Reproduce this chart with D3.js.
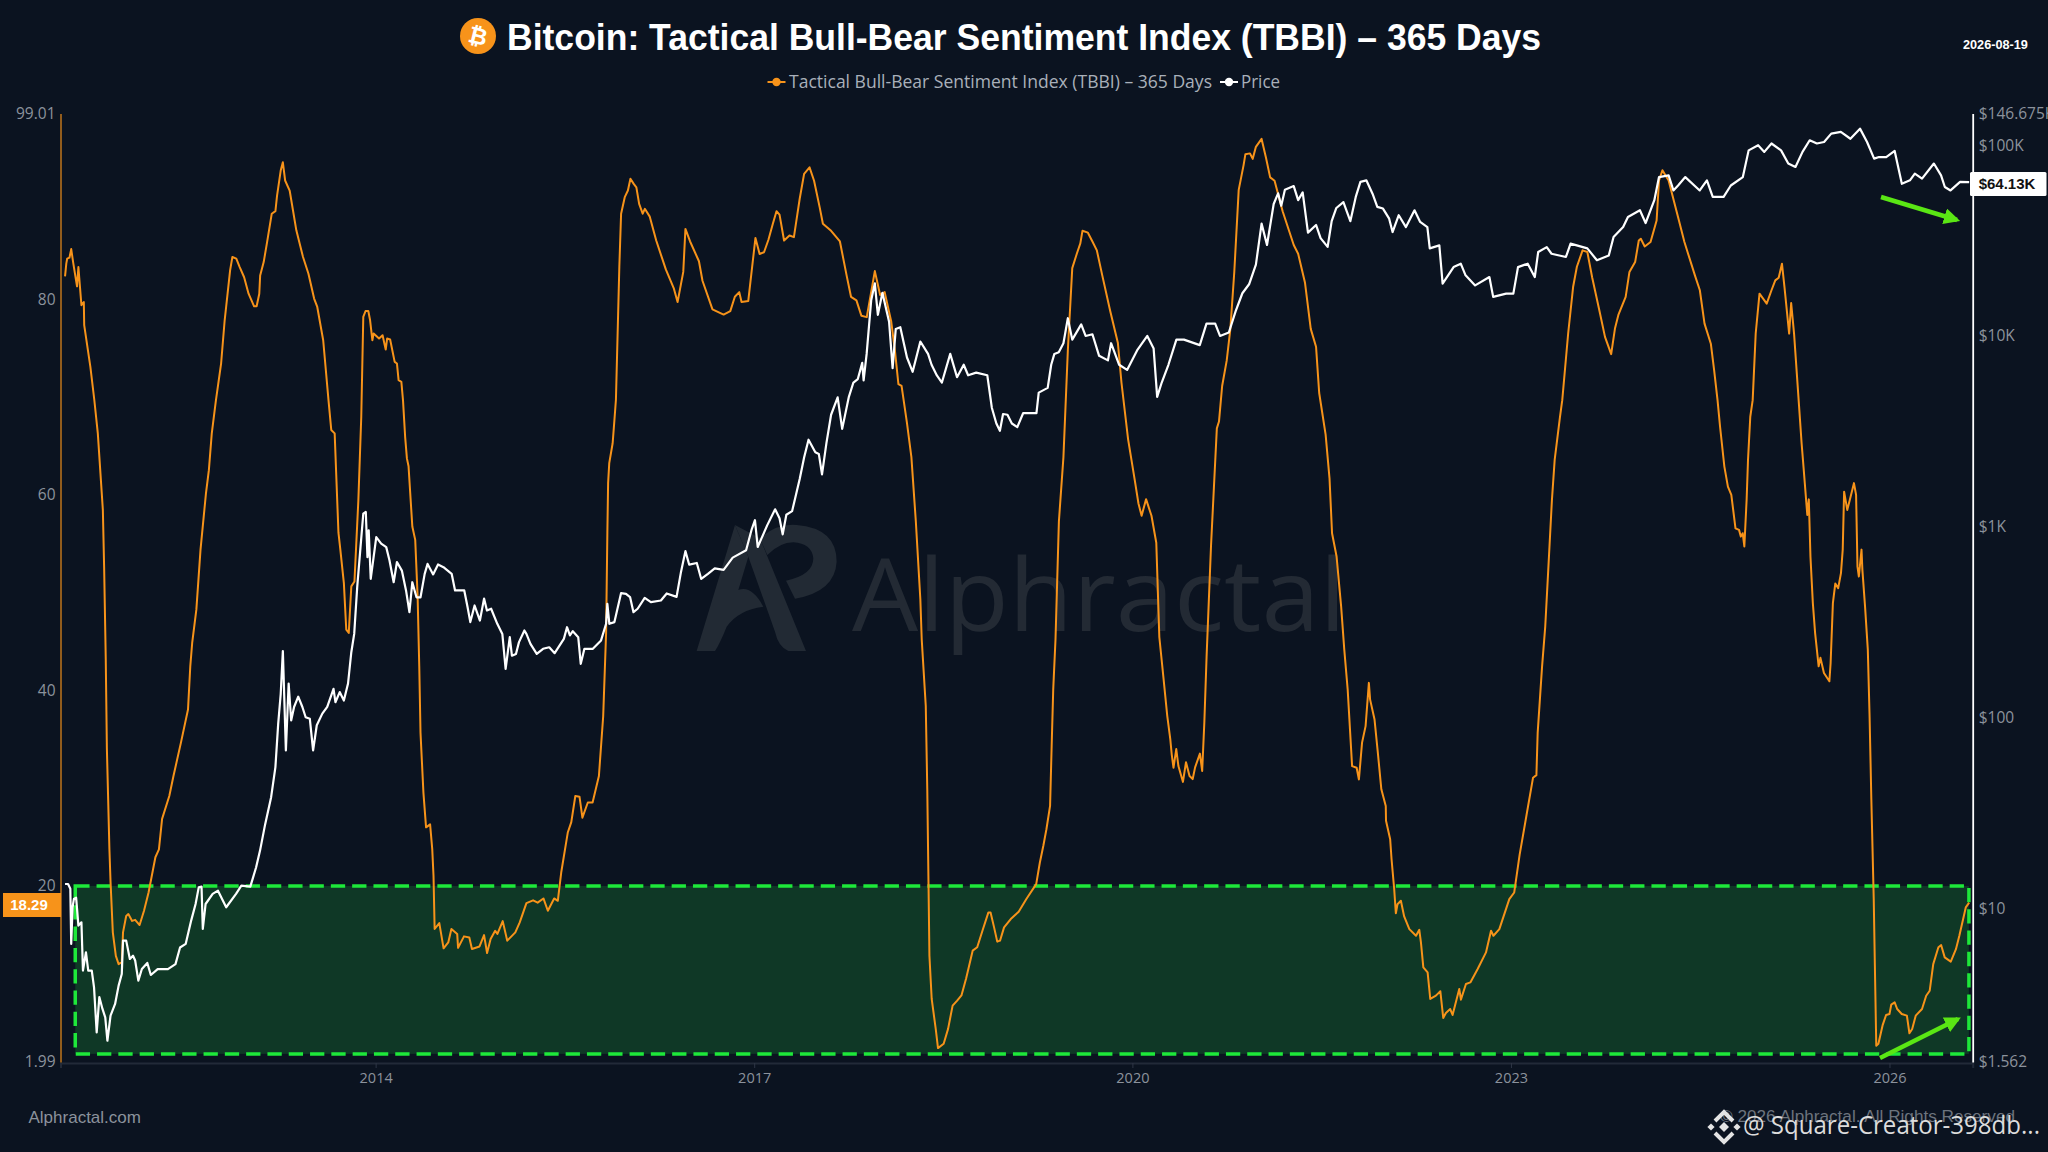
<!DOCTYPE html>
<html>
<head>
<meta charset="utf-8">
<script src="https://cdn.jsdelivr.net/npm/d3@7"></script>
<style>
  html, body { margin: 0; padding: 0; background: #0b1320; overflow: hidden; }
  svg { display: block; }
  .tick-label { font-family: "Open Sans", sans-serif; fill: #8b929c; }
</style>
</head>
<body>
<svg id="chart"></svg>
<script>
// TBBI (decimal year, index value)
const tbbiYears = [2011.539,2011.549,2011.556,2011.574,2011.588,2011.603,2011.634,2011.645,2011.669,2011.688,2011.691,2011.740,2011.771,2011.799,2011.839,2011.849,2011.862,2011.871,2011.891,2011.900,2011.918,2011.942,2011.964,2011.989,2011.999,2012.024,2012.041,2012.071,2012.095,2012.130,2012.165,2012.201,2012.237,2012.255,2012.283,2012.308,2012.365,2012.398,2012.457,2012.513,2012.531,2012.546,2012.579,2012.612,2012.655,2012.678,2012.701,2012.734,2012.775,2012.803,2012.846,2012.864,2012.895,2012.922,2012.957,2012.992,2013.036,2013.056,2013.077,2013.084,2013.112,2013.139,2013.176,2013.205,2013.218,2013.247,2013.264,2013.282,2013.318,2013.371,2013.424,2013.467,2013.512,2013.537,2013.584,2013.626,2013.648,2013.675,2013.705,2013.720,2013.748,2013.767,2013.787,2013.807,2013.832,2013.863,2013.886,2013.902,2013.920,2013.942,2013.956,2013.974,2013.984,2014.027,2014.055,2014.080,2014.091,2014.115,2014.151,2014.169,2014.182,2014.204,2014.217,2014.234,2014.248,2014.261,2014.291,2014.314,2014.333,2014.346,2014.356,2014.379,2014.400,2014.432,2014.449,2014.459,2014.468,2014.505,2014.539,2014.576,2014.601,2014.647,2014.654,2014.701,2014.743,2014.764,2014.824,2014.860,2014.884,2014.912,2014.948,2014.966,2015.008,2015.044,2015.108,2015.143,2015.196,2015.249,2015.285,2015.331,2015.366,2015.416,2015.445,2015.472,2015.524,2015.552,2015.584,2015.617,2015.640,2015.683,2015.721,2015.771,2015.805,2015.828,2015.838,2015.844,2015.853,2015.880,2015.894,2015.906,2015.933,2015.947,2015.976,2016.001,2016.021,2016.047,2016.068,2016.090,2016.118,2016.135,2016.174,2016.225,2016.301,2016.365,2016.394,2016.439,2016.456,2016.493,2016.563,2016.591,2016.670,2016.758,2016.811,2016.847,2016.882,2016.900,2016.953,2016.989,2017.010,2017.043,2017.078,2017.113,2017.148,2017.177,2017.201,2017.237,2017.280,2017.315,2017.361,2017.396,2017.439,2017.475,2017.520,2017.545,2017.610,2017.645,2017.680,2017.733,2017.768,2017.811,2017.850,2017.893,2017.957,2017.999,2018.035,2018.087,2018.116,2018.144,2018.169,2018.212,2018.247,2018.282,2018.318,2018.329,2018.361,2018.373,2018.383,2018.390,2018.408,2018.440,2018.458,2018.503,2018.538,2018.574,2018.610,2018.644,2018.681,2018.733,2018.769,2018.815,2018.858,2018.875,2018.903,2018.928,2018.950,2018.982,2019.035,2019.098,2019.159,2019.237,2019.266,2019.294,2019.318,2019.347,2019.361,2019.372,2019.390,2019.417,2019.453,2019.488,2019.523,2019.559,2019.587,2019.604,2019.647,2019.683,2019.718,2019.761,2019.824,2019.885,2019.913,2019.966,2020.019,2020.048,2020.073,2020.108,2020.151,2020.189,2020.213,2020.247,2020.276,2020.300,2020.311,2020.325,2020.347,2020.364,2020.400,2020.424,2020.452,2020.477,2020.496,2020.534,2020.552,2020.569,2020.587,2020.622,2020.668,2020.685,2020.710,2020.746,2020.775,2020.806,2020.841,2020.880,2020.894,2020.930,2020.952,2020.977,2021.022,2021.057,2021.090,2021.125,2021.189,2021.277,2021.312,2021.366,2021.412,2021.454,2021.479,2021.530,2021.561,2021.581,2021.617,2021.653,2021.678,2021.705,2021.740,2021.776,2021.794,2021.819,2021.847,2021.873,2021.883,2021.918,2021.943,2021.972,2022.007,2022.009,2022.042,2022.053,2022.074,2022.087,2022.100,2022.127,2022.153,2022.194,2022.247,2022.273,2022.286,2022.305,2022.339,2022.360,2022.405,2022.440,2022.463,2022.484,2022.518,2022.537,2022.590,2022.603,2022.643,2022.678,2022.736,2022.802,2022.842,2022.861,2022.908,2022.987,2023.026,2023.069,2023.123,2023.175,2023.202,2023.212,2023.247,2023.272,2023.300,2023.325,2023.347,2023.389,2023.407,2023.454,2023.493,2023.523,2023.568,2023.606,2023.644,2023.701,2023.746,2023.795,2023.825,2023.852,2023.910,2023.940,2023.985,2024.014,2024.030,2024.061,2024.107,2024.155,2024.174,2024.201,2024.250,2024.325,2024.375,2024.458,2024.497,2024.534,2024.584,2024.610,2024.637,2024.657,2024.691,2024.719,2024.746,2024.779,2024.807,2024.821,2024.836,2024.849,2024.867,2024.878,2024.896,2024.915,2024.939,2024.969,2025.026,2025.064,2025.094,2025.121,2025.147,2025.167,2025.204,2025.220,2025.243,2025.282,2025.303,2025.320,2025.348,2025.360,2025.373,2025.392,2025.410,2025.438,2025.452,2025.480,2025.523,2025.533,2025.551,2025.570,2025.593,2025.615,2025.629,2025.640,2025.665,2025.685,2025.718,2025.735,2025.746,2025.757,2025.778,2025.785,2025.806,2025.828,2025.842,2025.856,2025.875,2025.884,2025.895,2025.912,2025.945,2025.973,2026.000,2026.014,2026.041,2026.061,2026.097,2026.138,2026.158,2026.180,2026.208,2026.258,2026.291,2026.319,2026.347,2026.388,2026.410,2026.438,2026.486,2026.527,2026.554,2026.605,2026.632];
const tbbiValues = [82.36,83.65,84.16,84.26,85.14,83.81,81.33,83.30,79.40,79.73,77.36,73.09,69.73,66.29,58.46,52.68,43.15,34.00,23.76,20.40,15.25,12.85,12.00,12.20,15.25,16.93,17.12,16.42,16.53,16.00,17.46,19.33,21.73,22.93,23.73,26.86,29.20,31.24,34.66,38.05,42.46,44.85,48.26,54.40,60.16,62.53,66.29,69.69,73.46,77.86,82.97,84.33,84.16,83.30,82.26,80.58,79.29,79.29,80.58,82.45,83.81,85.86,88.76,89.02,90.62,93.17,94.02,92.16,91.13,87.06,84.33,82.62,80.08,79.22,75.82,69.69,66.64,66.29,56.13,54.40,50.97,46.21,45.88,50.64,51.14,59.48,67.99,78.20,78.81,78.81,77.86,75.82,76.50,75.99,76.33,74.86,75.99,75.89,73.60,73.44,71.73,71.57,69.69,65.94,63.73,62.93,56.76,55.40,49.61,42.46,35.66,29.54,25.99,26.30,23.76,21.06,15.60,16.20,13.62,14.22,15.60,15.09,13.67,14.84,14.73,13.55,13.81,14.97,13.14,14.58,15.41,15.09,16.40,14.40,15.25,16.27,18.24,18.53,18.29,18.72,17.46,18.72,18.48,21.37,25.46,26.53,29.20,29.13,26.98,28.53,28.53,31.24,37.36,45.86,56.06,61.20,63.24,65.28,67.65,69.73,83.33,88.76,90.45,91.13,92.33,91.81,91.46,89.77,88.76,89.26,88.46,86.02,83.06,81.09,79.73,82.81,87.20,85.92,83.90,81.90,78.98,78.44,78.80,80.26,80.74,79.73,79.82,83.90,86.28,84.64,84.82,86.10,87.73,89.01,88.66,86.02,86.53,86.36,90.29,92.84,93.50,92.13,89.38,87.73,87.01,86.46,85.92,82.45,80.26,79.90,78.33,78.18,82.89,80.45,80.74,77.73,74.80,71.33,71.14,67.33,63.86,57.33,49.33,45.20,38.40,29.86,20.00,12.86,8.44,5.38,3.41,3.86,5.38,7.76,8.27,8.80,10.53,13.38,13.73,15.60,17.29,17.29,15.76,14.30,14.40,15.76,16.61,17.36,18.66,20.18,22.40,24.13,25.80,28.18,34.98,40.09,45.20,57.29,63.86,74.80,83.19,84.66,85.73,87.01,86.82,85.92,85.01,82.45,78.80,75.53,71.52,65.68,61.49,59.12,57.86,59.56,57.86,55.10,45.46,41.12,37.37,34.98,33.46,32.09,34.00,32.26,30.64,32.66,31.25,30.93,32.13,33.53,31.76,36.69,43.49,54.80,66.80,67.50,71.14,73.73,76.98,82.80,91.20,93.76,94.85,94.93,94.37,95.60,96.41,94.48,92.48,92.13,89.01,85.56,84.66,81.73,76.98,75.16,70.42,66.17,61.66,56.08,53.69,48.60,44.17,40.08,32.26,32.09,30.89,34.66,36.35,40.77,39.06,37.02,33.79,29.88,28.17,26.66,24.77,22.73,19.66,17.21,18.13,18.48,16.88,15.58,14.90,15.51,14.22,11.67,11.16,8.44,8.78,9.22,6.50,7.01,7.41,6.80,9.46,8.37,9.97,10.13,11.50,13.20,15.41,14.90,15.58,18.65,19.33,23.20,27.20,31.06,31.33,35.66,42.46,46.53,53.33,59.46,63.60,67.99,69.69,76.53,81.26,83.33,85.01,84.84,82.26,78.88,76.16,74.40,77.01,78.40,80.26,82.80,83.81,86.02,86.20,85.41,85.86,88.06,92.16,93.20,92.16,88.40,85.86,82.45,80.93,77.52,75.46,72.76,69.69,66.97,62.89,60.84,60.00,56.58,56.42,55.73,56.08,54.72,59.48,63.57,67.99,69.69,76.53,80.58,79.56,80.93,81.94,82.21,83.65,81.26,76.50,79.62,76.50,69.20,65.26,62.53,57.94,59.54,53.69,48.93,45.86,42.46,43.33,41.78,40.93,42.80,48.93,50.93,50.46,52.00,54.40,60.33,58.46,59.48,61.20,60.00,52.66,51.65,54.40,52.33,48.60,44.17,37.36,28.85,18.66,11.86,3.66,3.86,5.73,6.80,6.90,7.86,8.09,7.41,6.90,6.73,4.93,5.37,6.73,7.41,8.77,9.28,12.00,13.73,13.94,12.69,12.26,13.53,14.90,17.80,18.29];

// price (decimal year, log10 of USD)
const priceYears = [2011.539,2011.563,2011.581,2011.588,2011.599,2011.609,2011.627,2011.645,2011.669,2011.681,2011.705,2011.723,2011.751,2011.769,2011.790,2011.811,2011.836,2011.858,2011.875,2011.900,2011.936,2011.964,2011.989,2011.999,2012.024,2012.053,2012.078,2012.095,2012.120,2012.148,2012.191,2012.219,2012.273,2012.354,2012.414,2012.450,2012.495,2012.538,2012.573,2012.598,2012.620,2012.630,2012.652,2012.708,2012.750,2012.815,2012.893,2012.935,2013.006,2013.052,2013.083,2013.123,2013.171,2013.205,2013.227,2013.247,2013.264,2013.288,2013.310,2013.330,2013.353,2013.386,2013.419,2013.445,2013.478,2013.504,2013.533,2013.577,2013.616,2013.666,2013.681,2013.715,2013.748,2013.781,2013.807,2013.830,2013.854,2013.880,2013.902,2013.922,2013.935,2013.945,2013.961,2014.005,2014.044,2014.084,2014.110,2014.143,2014.169,2014.208,2014.241,2014.268,2014.291,2014.324,2014.356,2014.389,2014.412,2014.456,2014.495,2014.538,2014.603,2014.630,2014.703,2014.729,2014.751,2014.785,2014.827,2014.860,2014.883,2014.916,2014.965,2015.005,2015.031,2015.064,2015.081,2015.113,2015.137,2015.180,2015.196,2015.228,2015.278,2015.328,2015.377,2015.420,2015.493,2015.518,2015.541,2015.564,2015.607,2015.627,2015.656,2015.723,2015.788,2015.828,2015.838,2015.854,2015.894,2015.947,2015.986,2016.018,2016.045,2016.078,2016.134,2016.183,2016.262,2016.308,2016.386,2016.421,2016.456,2016.486,2016.546,2016.581,2016.634,2016.688,2016.758,2016.830,2016.936,2016.981,2017.006,2017.028,2017.103,2017.166,2017.201,2017.226,2017.255,2017.301,2017.361,2017.396,2017.431,2017.485,2017.513,2017.538,2017.573,2017.610,2017.662,2017.698,2017.751,2017.787,2017.822,2017.857,2017.868,2017.892,2017.928,2017.957,2017.981,2018.017,2018.070,2018.098,2018.123,2018.159,2018.212,2018.257,2018.318,2018.379,2018.407,2018.449,2018.489,2018.555,2018.609,2018.662,2018.697,2018.761,2018.849,2018.885,2018.921,2018.949,2018.974,2019.009,2019.044,2019.087,2019.134,2019.239,2019.257,2019.328,2019.356,2019.381,2019.416,2019.453,2019.488,2019.523,2019.594,2019.629,2019.683,2019.736,2019.806,2019.831,2019.895,2019.958,2020.037,2020.118,2020.168,2020.196,2020.232,2020.285,2020.348,2020.408,2020.533,2020.586,2020.655,2020.693,2020.763,2020.817,2020.870,2020.923,2020.977,2021.022,2021.065,2021.118,2021.153,2021.178,2021.207,2021.277,2021.312,2021.348,2021.390,2021.454,2021.490,2021.546,2021.578,2021.615,2021.671,2021.726,2021.769,2021.806,2021.853,2021.902,2021.940,2021.985,2022.034,2022.061,2022.110,2022.167,2022.235,2022.280,2022.337,2022.356,2022.432,2022.458,2022.545,2022.602,2022.640,2022.716,2022.829,2022.859,2022.962,2023.019,2023.056,2023.133,2023.189,2023.216,2023.284,2023.322,2023.436,2023.473,2023.606,2023.682,2023.776,2023.814,2023.890,2023.928,2024.023,2024.068,2024.137,2024.174,2024.250,2024.288,2024.325,2024.382,2024.496,2024.553,2024.599,2024.685,2024.742,2024.837,2024.883,2024.958,2025.007,2025.064,2025.140,2025.197,2025.254,2025.310,2025.367,2025.424,2025.481,2025.538,2025.614,2025.690,2025.766,2025.822,2025.878,2025.917,2025.974,2026.041,2026.098,2026.162,2026.201,2026.258,2026.352,2026.409,2026.439,2026.484,2026.560,2026.632];
const priceLog10 = [1.127,1.127,1.102,0.813,1.005,1.048,1.055,0.909,0.926,0.673,0.769,0.673,0.673,0.585,0.349,0.534,0.472,0.428,0.305,0.437,0.498,0.594,0.655,0.830,0.830,0.734,0.751,0.726,0.620,0.681,0.713,0.650,0.681,0.681,0.707,0.794,0.813,0.935,1.022,1.109,1.113,0.891,1.022,1.075,1.092,1.005,1.075,1.118,1.113,1.215,1.302,1.438,1.582,1.740,1.966,2.123,2.348,1.827,2.178,1.984,2.055,2.109,2.055,2.001,1.993,1.827,1.959,2.020,2.055,2.150,2.080,2.133,2.089,2.178,2.342,2.438,2.685,2.893,3.068,3.077,2.840,2.981,2.727,2.945,2.911,2.893,2.823,2.709,2.815,2.770,2.666,2.552,2.709,2.630,2.630,2.753,2.805,2.750,2.802,2.788,2.753,2.666,2.666,2.579,2.500,2.587,2.508,2.623,2.561,2.570,2.491,2.438,2.255,2.421,2.324,2.333,2.395,2.456,2.438,2.386,2.333,2.360,2.368,2.337,2.412,2.473,2.430,2.452,2.421,2.281,2.360,2.360,2.404,2.491,2.596,2.491,2.500,2.652,2.648,2.631,2.552,2.570,2.627,2.605,2.613,2.650,2.632,2.763,2.872,2.801,2.810,2.726,2.753,2.782,2.774,2.838,2.877,2.988,3.034,2.894,3.007,3.091,3.044,2.960,3.063,3.082,3.250,3.363,3.456,3.390,3.381,3.274,3.438,3.587,3.678,3.513,3.681,3.756,3.774,3.859,3.767,3.906,4.187,4.276,4.111,4.226,4.075,3.831,4.037,4.046,3.887,3.812,3.971,3.906,3.849,3.793,3.756,3.906,3.784,3.849,3.794,3.808,3.794,3.624,3.541,3.503,3.591,3.587,3.541,3.522,3.596,3.596,3.703,3.728,3.849,3.906,3.915,3.962,4.093,3.981,4.061,4.000,4.009,3.896,3.872,3.962,3.849,3.822,3.924,4.000,3.934,3.681,3.756,3.849,3.981,3.981,3.952,4.065,4.065,4.000,4.018,4.130,4.224,4.271,4.374,4.589,4.477,4.692,4.748,4.683,4.767,4.786,4.712,4.753,4.542,4.582,4.513,4.467,4.602,4.671,4.702,4.602,4.729,4.808,4.816,4.746,4.677,4.668,4.615,4.545,4.633,4.571,4.659,4.598,4.571,4.459,4.475,4.274,4.361,4.379,4.318,4.265,4.309,4.205,4.222,4.222,4.361,4.379,4.309,4.440,4.466,4.431,4.414,4.484,4.459,4.397,4.422,4.519,4.571,4.624,4.659,4.592,4.712,4.833,4.842,4.763,4.789,4.833,4.763,4.816,4.729,4.729,4.789,4.833,4.973,5.000,4.965,5.009,4.973,4.904,4.886,4.965,5.026,5.009,5.017,5.061,5.070,5.034,5.087,5.017,4.930,4.938,4.938,4.970,4.798,4.816,4.851,4.825,4.904,4.842,4.781,4.763,4.808,4.807];

const yearTicks = [2014, 2017, 2020, 2023, 2026];
const leftTicks = [1.99, 20, 40, 60, 80, 99.01];
const rightTicks = [1.562, 10, 100, 1000, 10000, 100000, 146675];
const rightTickLabels = ["$1.562", "$10", "$100", "$1K", "$10K", "$100K", "$146.675K"];
const zoneYears = [2011.62, 2026.63];
const zoneValues = [2.82, 20];

const W = 2048, H = 1152;
const plot = { left: 60.5, right: 1972.7, top: 113.5, bottom: 1062 };

const toDate = yr => {
    const y = Math.floor(yr);
    const a = Date.UTC(y, 0, 1), b = Date.UTC(y + 1, 0, 1);
    return new Date(a + (yr - y) * (b - a));
};

const svg = d3.select("#chart").attr("width", W).attr("height", H);

const xScale = d3.scaleUtc().domain([toDate(2011.503), toDate(2026.66)]).range([plot.left, plot.right]);
const yLeft = d3.scaleLinear().domain([1.99, 99.01]).range([plot.bottom, plot.top]);
const yRight = d3.scaleLog().domain([1.562, 146675]).range([plot.bottom, plot.top]);

// watermark
const logo = svg.append("g").attr("transform", "translate(680,510) scale(0.3333)").attr("fill", "#222a34");
logo.append("path").attr("d", "M50 423 L165 45 L205 140 L175 240 Q215 225 250 290 Q175 300 140 350 Q120 400 105 423 Z");
logo.append("path").attr("d", "M165 45 L240 85 L378 423 L325 423 Q295 410 285 365 L205 140 Z");
logo.append("path").attr("fill-rule", "evenodd").attr("d", "M240 85 Q290 40 350 45 Q470 55 470 155 Q465 245 345 266 L318 212 Q400 195 400 145 Q395 100 340 97 Q300 97 262 135 Z");
svg.append("text")
    .attr("x", 852).attr("y", 631)
    .attr("font-family", "'Open Sans', sans-serif").attr("font-size", 100).attr("font-weight", 400)
    .attr("fill", "#232a34").attr("textLength", 494).attr("lengthAdjust", "spacingAndGlyphs")
    .text("Alphractal");

// green zone
svg.append("rect")
    .attr("x", xScale(toDate(zoneYears[0]))).attr("y", yLeft(zoneValues[1]))
    .attr("width", xScale(toDate(zoneYears[1])) - xScale(toDate(zoneYears[0])))
    .attr("height", yLeft(zoneValues[0]) - yLeft(zoneValues[1]))
    .attr("fill", "#0f3826").attr("stroke", "#1ee83a").attr("stroke-width", 3.5)
    .attr("stroke-dasharray", "14.3,7");

// axes
const xAxis = svg.append("g").attr("transform", `translate(0,${plot.bottom + 1})`)
    .call(d3.axisBottom(xScale).tickValues(yearTicks.map(toDate)).tickFormat(d3.utcFormat("%Y")).tickSizeOuter(0).tickSize(5).tickPadding(5));
xAxis.select(".domain").attr("stroke", "#222a38").attr("stroke-width", 2);
xAxis.selectAll(".tick line").attr("stroke", "#2e3645");
xAxis.selectAll("text").attr("class", "tick-label").attr("font-size", 14.5);

const leftAxis = svg.append("g").attr("transform", `translate(${plot.left},0)`)
    .call(d3.axisLeft(yLeft).tickValues(leftTicks).tickFormat(d => d).tickSize(0).tickPadding(5));
leftAxis.select(".domain").attr("stroke", "#b5701c").attr("stroke-width", 1.6);
leftAxis.selectAll("text").attr("class", "tick-label").attr("font-size", 15.5);

const rightAxis = svg.append("g").attr("transform", `translate(${plot.right},0)`)
    .call(d3.axisRight(yRight).tickValues(rightTicks).tickFormat((d, i) => rightTickLabels[i]).tickSize(0).tickPadding(6));
rightAxis.select(".domain").attr("stroke", "#ffffff").attr("stroke-width", 1.8);
rightAxis.selectAll("text").attr("class", "tick-label").attr("font-size", 15.5);

// series
const tbbiLine = d3.line().x((d, i) => xScale(toDate(tbbiYears[i]))).y(d => yLeft(d));
svg.append("path").datum(tbbiValues)
    .attr("d", tbbiLine).attr("fill", "none").attr("stroke", "#f7931a").attr("stroke-width", 2).attr("stroke-linejoin", "round");

const priceLine = d3.line().x((d, i) => xScale(toDate(priceYears[i]))).y(d => yRight(Math.pow(10, d)));
svg.append("path").datum(priceLog10)
    .attr("d", priceLine).attr("fill", "none").attr("stroke", "#ffffff").attr("stroke-width", 2.2).attr("stroke-linejoin", "round");

// last value labels
svg.append("rect").attr("x", 3).attr("y", 893).attr("width", 58).attr("height", 24).attr("fill", "#f7931a");
svg.append("text").attr("x", 29).attr("y", 910).attr("text-anchor", "middle")
    .attr("font-family", "'Liberation Sans', sans-serif").attr("font-weight", "bold").attr("font-size", 15).attr("fill", "#ffffff")
    .text("18.29");
svg.append("rect").attr("x", 1970).attr("y", 172).attr("width", 76.5).attr("height", 24).attr("rx", 1.5).attr("fill", "#ffffff");
svg.append("text").attr("x", 2007).attr("y", 189).attr("text-anchor", "middle")
    .attr("font-family", "'Liberation Sans', sans-serif").attr("font-weight", "bold").attr("font-size", 15).attr("fill", "#111111")
    .text("$64.13K");

// arrows
const defs = svg.append("defs");
defs.append("marker").attr("id", "head").attr("viewBox", "0 0 10 10").attr("refX", 8).attr("refY", 5)
    .attr("markerWidth", 3.6).attr("markerHeight", 3.6).attr("orient", "auto")
    .append("path").attr("d", "M0 0 L10 5 L0 10 Z").attr("fill", "#5ae614");
[[1881, 197, 1957, 220], [1880, 1058, 1958, 1019]].forEach(a => {
    svg.append("line").attr("x1", a[0]).attr("y1", a[1]).attr("x2", a[2]).attr("y2", a[3])
        .attr("stroke", "#5ae614").attr("stroke-width", 4.5).attr("marker-end", "url(#head)");
});

// title
svg.append("circle").attr("cx", 478).attr("cy", 36).attr("r", 18).attr("fill", "#f7931a");
svg.append("text").attr("x", 478).attr("y", 44).attr("text-anchor", "middle")
    .attr("transform", "rotate(14,478,36)")
    .attr("font-family", "'DejaVu Sans', sans-serif").attr("font-weight", "bold").attr("font-size", 23).attr("fill", "#ffffff")
    .text("₿");
svg.append("text").attr("x", 507).attr("y", 49.5)
    .attr("font-family", "'Liberation Sans', sans-serif").attr("font-weight", "bold").attr("font-size", 36).attr("fill", "#ffffff")
    .attr("textLength", 1034).attr("lengthAdjust", "spacingAndGlyphs")
    .text("Bitcoin: Tactical Bull-Bear Sentiment Index (TBBI) – 365 Days");
svg.append("text").attr("x", 1963).attr("y", 49)
    .attr("font-family", "'Liberation Sans', sans-serif").attr("font-weight", "bold").attr("font-size", 12.7).attr("fill", "#ffffff")
    .text("2026-08-19");

// legend
const legendItems = [
    { name: "Tactical Bull-Bear Sentiment Index (TBBI) – 365 Days", color: "#f7931a", x: 767.5, tx: 789, len: 423 },
    { name: "Price", color: "#ffffff", x: 1220, tx: 1241, len: 39 }
];
legendItems.forEach(d => {
    svg.append("line").attr("x1", d.x).attr("x2", d.x + 18).attr("y1", 82).attr("y2", 82).attr("stroke", d.color).attr("stroke-width", 2);
    svg.append("circle").attr("cx", d.x + 9).attr("cy", 82).attr("r", 4.2).attr("fill", d.color);
    svg.append("text").attr("x", d.tx).attr("y", 87.5)
        .attr("font-family", "'Open Sans', sans-serif").attr("font-size", 17.5).attr("fill", "#a9b0ba")
        .attr("textLength", d.len).attr("lengthAdjust", "spacingAndGlyphs").text(d.name);
});

// footer
svg.append("text").attr("x", 28.5).attr("y", 1123)
    .attr("font-family", "'Liberation Sans', sans-serif").attr("font-size", 17).attr("fill", "#8b929c")
    .text("Alphractal.com");
svg.append("text").attr("x", 1720).attr("y", 1122)
    .attr("font-family", "'Liberation Sans', sans-serif").attr("font-size", 16).attr("fill", "#6d747e")
    .attr("textLength", 295).attr("lengthAdjust", "spacingAndGlyphs")
    .text("© 2026 Alphractal. All Rights Reserved");

// platform stamp
const stamp = svg.append("g").attr("transform", "translate(1724,1127)").attr("fill", "#e4e4e4");
[[0, 0, 5], [-13, 0, 3.6], [13, 0, 3.6]].forEach(d => {
    stamp.append("path").attr("d", `M${d[0] - d[2]} ${d[1]} L${d[0]} ${d[1] - d[2]} L${d[0] + d[2]} ${d[1]} L${d[0]} ${d[1] + d[2]} Z`);
});
stamp.append("path").attr("d", "M-9 -6 L0 -15 L9 -6").attr("fill", "none").attr("stroke", "#e4e4e4").attr("stroke-width", 4);
stamp.append("path").attr("d", "M-9 6 L0 15 L9 6").attr("fill", "none").attr("stroke", "#e4e4e4").attr("stroke-width", 4);
svg.append("text").attr("x", 1743).attr("y", 1134)
    .attr("font-family", "'Open Sans', sans-serif").attr("font-size", 26).attr("fill", "#dcdcdc")
    .attr("textLength", 297).attr("lengthAdjust", "spacingAndGlyphs")
    .text("@ Square-Creator-398db...");
</script>
</body>
</html>
